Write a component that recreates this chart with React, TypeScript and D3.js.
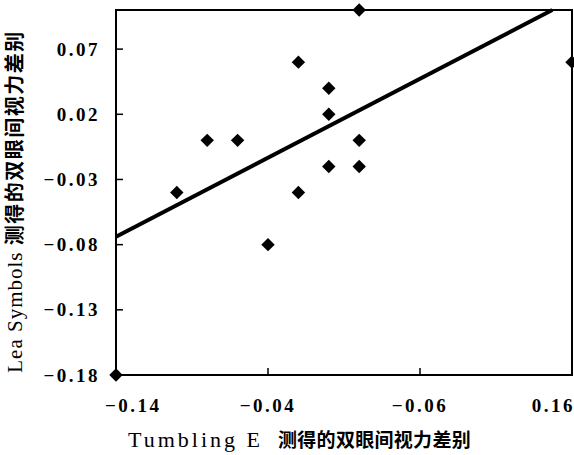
import React, { useEffect, useRef } from "react";
import * as d3 from "d3";

// Tick values and the labels printed in the original (the third x label is printed as "−0.06")
const xTickValues = [-0.14, -0.04, 0.06, 0.16];
const xTickLabels = ["−0.14", "−0.04", "−0.06", "0.16"];
const yTickValues = [0.07, 0.02, -0.03, -0.08, -0.13, -0.18];
const yTickLabels = ["0.07", "0.02", "−0.03", "−0.08", "−0.13", "−0.18"];

// Scatter points: Tumbling E difference (x) vs Lea Symbols difference (y)
const tumblingE = [0.02, 0.16, -0.02, 0.0, 0.0, -0.08, -0.06, 0.02, 0.0, 0.02, -0.10, -0.02, -0.04, -0.14];
const leaSymbols = [0.10, 0.06, 0.06, 0.04, 0.02, 0.0, 0.0, 0.0, -0.02, -0.02, -0.04, -0.04, -0.08, -0.18];

// Fitted line endpoints
const fitX = [-0.14, 0.147];
const fitY = [-0.074, 0.10];

const xDomain = [-0.14, 0.16];
const yDomain = [-0.18, 0.10];

const xTitleLatin = "Tumbling E";
const xTitleCJK = "测得的双眼间视力差别";
const yTitleLatin = "Lea Symbols ";
const yTitleCJK = "测得的双眼间视力差别";

const W = 574;
const H = 455;

export default function App() {
  const ref = useRef<SVGSVGElement | null>(null);

  useEffect(() => {
    const svg = d3.select(ref.current);
    svg.selectAll("*").remove();

    const left = 116, right = 572, top = 10, bottom = 375;
    const x = d3.scaleLinear().domain(xDomain).range([left, right]);
    const y = d3.scaleLinear().domain(yDomain).range([bottom, top]);

    const serif = "Liberation Serif, DejaVu Serif, Noto Sans CJK SC, serif";
    const cjk = "Noto Sans CJK SC, sans-serif";

    // frame
    svg.append("rect")
      .attr("x", left).attr("y", top)
      .attr("width", right - left).attr("height", bottom - top)
      .attr("fill", "none").attr("stroke", "#000").attr("stroke-width", 2);

    // y ticks (inward)
    svg.append("g").selectAll("line").data(yTickValues).join("line")
      .attr("x1", left).attr("x2", left + 7)
      .attr("y1", (d) => y(d)).attr("y2", (d) => y(d))
      .attr("stroke", "#000").attr("stroke-width", 1.5);

    svg.append("g").selectAll("text").data(yTickValues).join("text")
      .attr("x", 100).attr("y", (d) => y(d))
      .attr("dy", "0.35em")
      .attr("text-anchor", "end")
      .style("font-family", serif).attr("font-weight", "bold")
      .attr("font-size", 19).attr("letter-spacing", 2.5)
      .text((d, i) => yTickLabels[i]);

    // x ticks (inward)
    svg.append("g").selectAll("line").data(xTickValues).join("line")
      .attr("x1", (d) => x(d)).attr("x2", (d) => x(d))
      .attr("y1", bottom).attr("y2", bottom - 7)
      .attr("stroke", "#000").attr("stroke-width", 1.5);

    const xl = svg.append("g").selectAll("text").data(xTickValues).join("text")
      .attr("y", 412)
      .attr("text-anchor", "start")
      .style("font-family", serif).attr("font-weight", "bold")
      .attr("font-size", 19).attr("letter-spacing", 2.5)
      .text((d, i) => xTickLabels[i]);
    xl.each(function (d) {
      const el = this as SVGTextElement;
      const w = el.getComputedTextLength();
      let sx = x(d) - w / 2;
      sx = Math.max(left - 11, Math.min(W + 1 - w, sx));
      d3.select(el).attr("x", sx);
    });

    // fitted line
    svg.append("line")
      .attr("x1", x(fitX[0])).attr("y1", y(fitY[0]))
      .attr("x2", x(fitX[1])).attr("y2", y(fitY[1]))
      .attr("stroke", "#000").attr("stroke-width", 4);

    // points
    const sym = d3.symbol().type(d3.symbolSquare).size(90);
    svg.append("g").selectAll("path").data(tumblingE).join("path")
      .attr("d", sym() as string)
      .attr("transform", (d, i) => `translate(${x(d)},${y(leaSymbols[i])}) rotate(45)`)
      .attr("fill", "#000");

    // x title
    svg.append("text")
      .attr("x", 128).attr("y", 447)
      .style("font-family", serif).attr("font-size", 22)
      .attr("font-weight", 500)
      .attr("letter-spacing", 3)
      .text(xTitleLatin);
    svg.append("text")
      .attr("x", 278).attr("y", 447)
      .style("font-family", cjk).attr("font-weight", "bold")
      .attr("font-size", 19).attr("letter-spacing", 0.3)
      .text(xTitleCJK);

    // y title
    const yt = svg.append("text")
      .attr("transform", `translate(22,${(30 + 373) / 2}) rotate(-90)`)
      .attr("text-anchor", "middle")
      .style("font-family", serif).attr("font-size", 21);
    yt.append("tspan").attr("letter-spacing", 1).text(yTitleLatin);
    yt.append("tspan").style("font-family", cjk).attr("font-weight", "bold")
      .attr("font-size", 20).attr("letter-spacing", 1.5).text(yTitleCJK);
  }, []);

  return (
    <svg
      ref={ref}
      width={W}
      height={H}
      style={{ position: "fixed", left: 0, top: 0, background: "#fff" }}
    />
  );
}
